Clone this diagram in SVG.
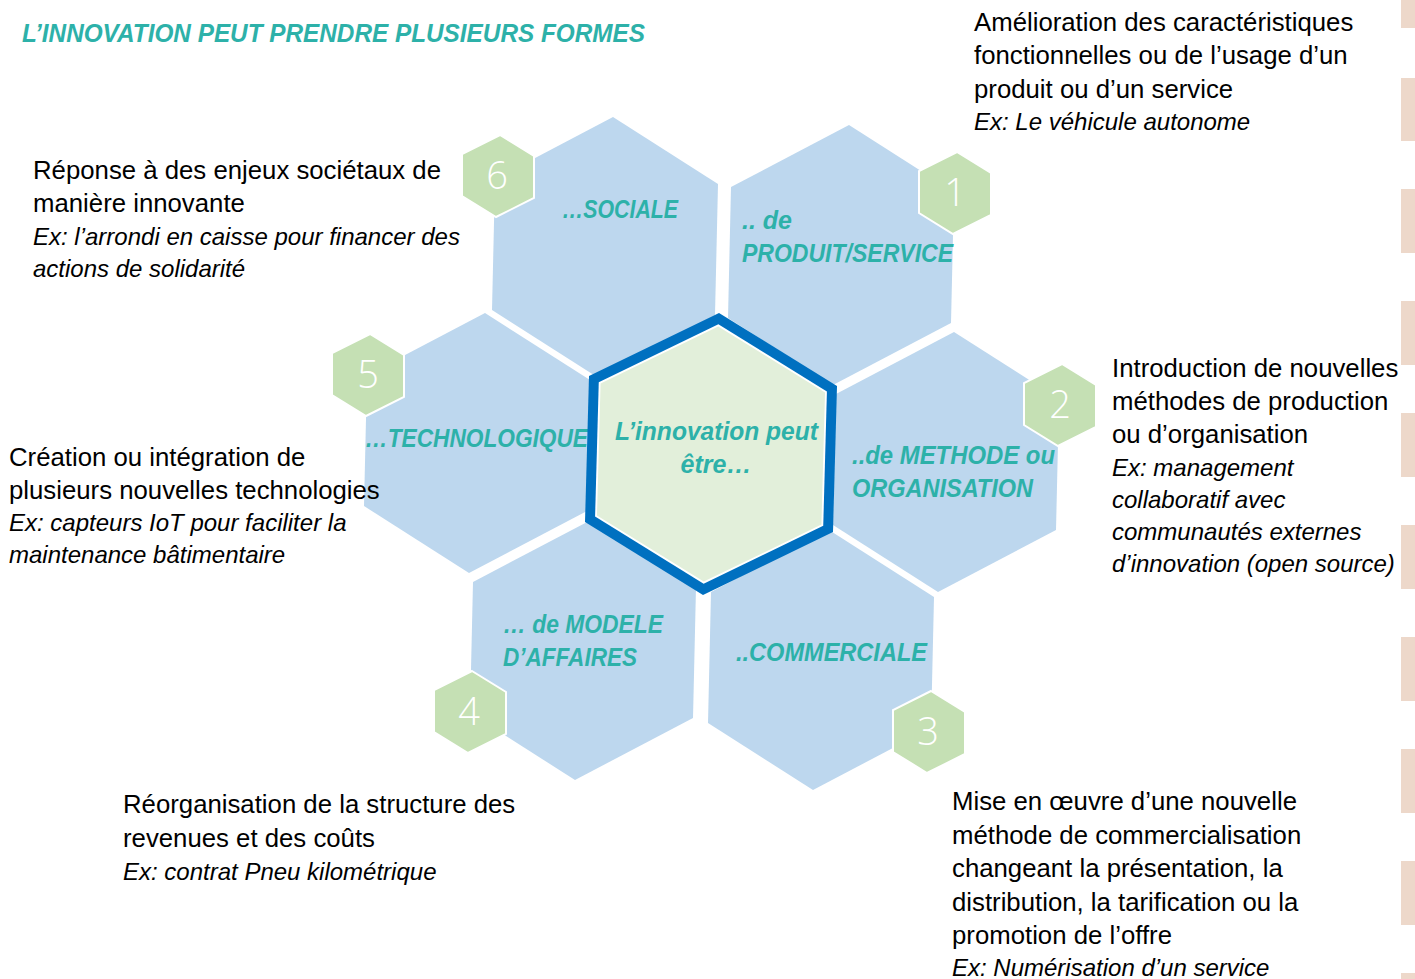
<svg xmlns="http://www.w3.org/2000/svg" xmlns:xlink="http://www.w3.org/1999/xlink" width="1415" height="979" viewBox="0 0 1415 979">
<style>
.hex{fill:#BDD7EE}
.badge{fill:#C5E0B4;stroke:#FFFFFF;stroke-width:2}
.num{font-family:"Open Sans","Lato",sans-serif;font-weight:300;font-size:38px;fill:#FFFFFF;text-anchor:middle}
.lbl{font-family:"Liberation Sans",Arial,sans-serif;font-weight:bold;font-style:italic;font-size:25px;fill:#2DB1A9}
.txt{font-family:"Liberation Sans",Arial,sans-serif;font-size:25.75px;fill:#000000}
.ex{font-style:italic;font-size:24px}
.bar{fill:#EDD8CA}
</style>
<defs>
<polygon id="hexShape" points="8,-130 113,-63 110,68 -8,130 -113,63 -110,-68"/>
<polygon id="badgeShape" points="2,-41 36,-20 36,22 -2,41 -36,20 -36,-22"/>
<polygon id="centerShape" points="8,-141 126,-68 122,78 -8,141 -126,68 -122,-78"/>
</defs>
<rect width="1415" height="979" fill="#FFFFFF"/>
<g id="side-bars">
<rect class="bar" x="1401" y="0" width="14" height="28"/>
<rect class="bar" x="1401" y="78" width="14" height="63"/>
<rect class="bar" x="1401" y="189" width="14" height="64"/>
<rect class="bar" x="1401" y="301" width="14" height="64"/>
<rect class="bar" x="1401" y="413" width="14" height="64"/>
<rect class="bar" x="1401" y="525" width="14" height="64"/>
<rect class="bar" x="1401" y="637" width="14" height="64"/>
<rect class="bar" x="1401" y="749" width="14" height="64"/>
<rect class="bar" x="1401" y="861" width="14" height="64"/>
<rect class="bar" x="1401" y="973" width="14" height="6"/>
</g>
<text id="title" x="22" y="42" class="lbl" font-size="25" textLength="623" lengthAdjust="spacingAndGlyphs" fill="#35B5AE">L’INNOVATION PEUT PRENDRE PLUSIEURS FORMES</text>
<g id="connectors"/>
<g id="node-6">
<use xlink:href="#hexShape" class="hex" transform="translate(605,247)"/>
<text class="lbl" x="562" y="218" textLength="116" lengthAdjust="spacingAndGlyphs">…SOCIALE</text>
<use xlink:href="#badgeShape" class="badge" transform="translate(498,176)"/>
<text class="num" x="497" y="189">6</text>
</g>
<g id="node-1">
<use xlink:href="#hexShape" class="hex" transform="translate(841,255)"/>
<text class="lbl" x="742" y="229">.. de</text>
<text class="lbl" x="742" y="262" textLength="211" lengthAdjust="spacingAndGlyphs">PRODUIT/SERVICE</text>
<use xlink:href="#badgeShape" class="badge" transform="translate(955,193)"/>
<text class="num" x="955" y="206">1</text>
</g>
<g id="node-2">
<use xlink:href="#hexShape" class="hex" transform="translate(946,462)"/>
<text class="lbl" x="852" y="464" textLength="203" lengthAdjust="spacingAndGlyphs">..de METHODE ou</text>
<text class="lbl" x="852" y="497" textLength="181" lengthAdjust="spacingAndGlyphs">ORGANISATION</text>
<use xlink:href="#badgeShape" class="badge" transform="translate(1060,405)"/>
<text class="num" x="1060" y="418">2</text>
</g>
<g id="node-3">
<use xlink:href="#hexShape" class="hex" transform="translate(821,660)"/>
<text class="lbl" x="736" y="661" textLength="191" lengthAdjust="spacingAndGlyphs">..COMMERCIALE</text>
<use xlink:href="#badgeShape" class="badge" transform="translate(929,732)"/>
<text class="num" x="928" y="745">3</text>
</g>
<g id="node-4">
<use xlink:href="#hexShape" class="hex" transform="translate(583,650)"/>
<text class="lbl" x="503" y="633" textLength="160" lengthAdjust="spacingAndGlyphs">… de MODELE</text>
<text class="lbl" x="503" y="666" textLength="134" lengthAdjust="spacingAndGlyphs">D’AFFAIRES</text>
<use xlink:href="#badgeShape" class="badge" transform="translate(470,712)"/>
<text class="num" x="469" y="725">4</text>
</g>
<g id="node-5">
<use xlink:href="#hexShape" class="hex" transform="translate(477,443)"/>
<text class="lbl" x="365" y="447" textLength="223" lengthAdjust="spacingAndGlyphs">…TECHNOLOGIQUE</text>
<use xlink:href="#badgeShape" class="badge" transform="translate(368,375)"/>
<text class="num" x="368" y="388">5</text>
</g>
<g id="node-center">
<use xlink:href="#centerShape" fill="#0070C0" transform="translate(711,454)"/>
<use xlink:href="#centerShape" fill="#FFFFFF" transform="translate(711,454) scale(0.92)"/>
<use xlink:href="#centerShape" fill="#E2EFDA" transform="translate(711,454) scale(0.905)"/>
<text class="lbl" x="716.5" y="440" text-anchor="middle" textLength="203" lengthAdjust="spacingAndGlyphs">L’innovation peut</text>
<text class="lbl" x="716" y="473" text-anchor="middle">être…</text>
</g>
<g id="desc-1" class="txt">
<text x="974" y="31">Amélioration des caractéristiques</text>
<text x="974" y="64">fonctionnelles ou de l’usage d’un</text>
<text x="974" y="98">produit ou d’un service</text>
<text x="974" y="130" class="ex">Ex: Le véhicule autonome</text>
</g>
<g id="desc-2" class="txt">
<text x="1112" y="377">Introduction de nouvelles</text>
<text x="1112" y="410">méthodes de production</text>
<text x="1112" y="443">ou d’organisation</text>
<text x="1112" y="476" class="ex">Ex: management</text>
<text x="1112" y="508" class="ex">collaboratif avec</text>
<text x="1112" y="540" class="ex">communautés externes</text>
<text x="1112" y="572" class="ex">d’innovation (open source)</text>
</g>
<g id="desc-3" class="txt">
<text x="952" y="810">Mise en œuvre d’une nouvelle</text>
<text x="952" y="844">méthode de commercialisation</text>
<text x="952" y="877">changeant la présentation, la</text>
<text x="952" y="911">distribution, la tarification ou la</text>
<text x="952" y="944">promotion de l’offre</text>
<text x="952" y="976" class="ex">Ex: Numérisation d’un service</text>
</g>
<g id="desc-4" class="txt">
<text x="123" y="813">Réorganisation de la structure des</text>
<text x="123" y="847">revenues et des coûts</text>
<text x="123" y="880" class="ex">Ex: contrat Pneu kilométrique</text>
</g>
<g id="desc-5" class="txt">
<text x="9" y="466">Création ou intégration de</text>
<text x="9" y="499">plusieurs nouvelles technologies</text>
<text x="9" y="531" class="ex">Ex: capteurs IoT pour faciliter la</text>
<text x="9" y="563" class="ex">maintenance bâtimentaire</text>
</g>
<g id="desc-6" class="txt">
<text x="33" y="179">Réponse à des enjeux sociétaux de</text>
<text x="33" y="212">manière innovante</text>
<text x="33" y="245" class="ex">Ex: l’arrondi en caisse pour financer des</text>
<text x="33" y="277" class="ex">actions de solidarité</text>
</g>
</svg>
